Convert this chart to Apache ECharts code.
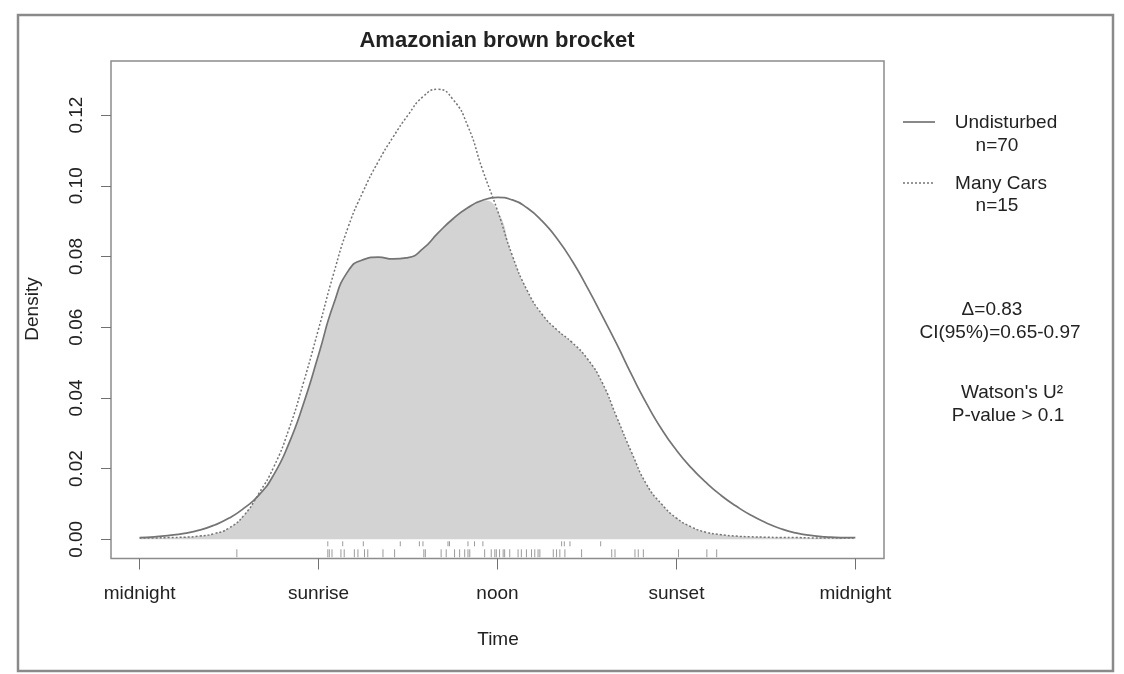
<!DOCTYPE html>
<html>
<head>
<meta charset="utf-8">
<script src="https://cdn.jsdelivr.net/npm/echarts@6/dist/echarts.min.js"></script>
<style>
  html, body { margin: 0; padding: 0; background: #ffffff; }
  #chart { width: 1124px; height: 674px; }
</style>
</head>
<body>
<div id="chart"></div>
<script>
// Kernel density of activity over the day (hours since midnight).
const hours = [0, 0.5, 1, 1.5, 2, 2.5, 3, 3.5, 4, 4.5, 5, 5.5, 6, 6.5, 7, 7.5, 8, 8.5, 9, 9.5,
  10, 10.5, 11, 11.5, 12, 12.5, 13, 13.5, 14, 14.5, 15, 15.5, 16, 16.5, 17, 17.5, 18, 18.5, 19, 19.5,
  20, 20.5, 21, 21.5, 22, 22.5, 23, 23.5, 24];

const undisturbed = [0.0005, 0.0007, 0.0011, 0.0017, 0.0026, 0.0040, 0.0060, 0.0088, 0.0125, 0.0183,
  0.0270, 0.0385, 0.0522, 0.0664, 0.0760, 0.0791, 0.0798, 0.0793, 0.0797, 0.0822,
  0.0866, 0.0906, 0.0938, 0.0959, 0.0967, 0.0960, 0.0937, 0.0900, 0.0850, 0.0788,
  0.0714, 0.0634, 0.0552, 0.0465, 0.0384, 0.0312, 0.0252, 0.0202, 0.0160, 0.0124,
  0.0094, 0.0068, 0.0047, 0.0030, 0.0018, 0.0011, 0.0007, 0.0005, 0.0005];

const manyCars = [0.0004, 0.0004, 0.0005, 0.0006, 0.0009, 0.0016, 0.0032, 0.0068, 0.0130, 0.0205,
  0.0310, 0.0445, 0.0595, 0.0750, 0.0885, 0.0985, 0.1068, 0.1138, 0.1200, 0.1252,
  0.1273, 0.1245, 0.1170, 0.1045, 0.0930, 0.0802, 0.0703, 0.0636, 0.0592, 0.0557,
  0.0512, 0.0445, 0.0345, 0.0245, 0.0155, 0.0100, 0.0060, 0.0035, 0.0020, 0.0013,
  0.0009, 0.0007, 0.0006, 0.0005, 0.0005, 0.0004, 0.0004, 0.0004, 0.0004];

// Detection times (hours) drawn as rugs under the curves.
const undisturbedTimes = [3.26, 6.31, 6.36, 6.45, 6.75, 6.86, 7.20, 7.32, 7.54, 7.65, 8.16, 8.55,
  9.53, 9.58, 10.11, 10.28, 10.56, 10.73, 10.90, 11.01, 11.07, 11.57, 11.79, 11.91, 11.96,
  12.07, 12.19, 12.24, 12.41, 12.69, 12.80, 12.97, 13.14, 13.25, 13.36, 13.42, 13.87, 13.98,
  14.09, 14.26, 14.82, 15.83, 15.94, 16.61, 16.72, 16.89, 18.07, 19.02, 19.35];
const manyCarsTimes = [6.31, 6.81, 7.50, 8.74, 9.38, 9.50, 10.34, 10.39, 11.01, 11.23, 11.51,
  14.15, 14.24, 14.43, 15.46];

const timeTicks = [0, 6, 12, 18, 24];
const timeTickLabels = ['midnight', 'sunrise', 'noon', 'sunset', 'midnight'];
const densityTicks = [0, 0.02, 0.04, 0.06, 0.08, 0.10, 0.12];

const seriesNames = ['Undisturbed', 'Many Cars'];
const sampleSizes = ['n=70', 'n=15'];
const statLines = ['\u0394=0.83', 'CI(95%)=0.65-0.97', 'Watson\'s U\u00B2', 'P-value > 0.1'];
const chartTitle = 'Amazonian brown brocket';

const FONT = '"Liberation Sans", Arial, Helvetica, sans-serif';
const TEXT = '#222222';
const CURVE = '#747474';

const solidPts = hours.map((h, i) => [h, undisturbed[i]]);
const dottedPts = hours.map((h, i) => [h, manyCars[i]]);
const overlapPts = hours.map((h, i) => [h, Math.min(undisturbed[i], manyCars[i])]);

function rugSeries(times, top, bottom) {
  return {
    type: 'custom',
    silent: true,
    z: 4,
    encode: { x: 0, y: 1 },
    data: times.map(t => [t, 0]),
    renderItem: (params, api) => {
      const p = api.coord([api.value(0), 0]);
      return {
        type: 'line',
        shape: { x1: p[0], y1: p[1] + top, x2: p[0], y2: p[1] + bottom },
        style: { stroke: '#9a9a9a', lineWidth: 1 }
      };
    }
  };
}

function label(text, x, y, size, weight, rotation) {
  return {
    type: 'text', x: x, y: y, rotation: rotation || 0, silent: true,
    style: { text: text, font: (weight || 'normal') + ' ' + size + 'px ' + FONT,
      fill: TEXT, align: 'center', verticalAlign: 'middle' }
  };
}

const chart = echarts.init(document.getElementById('chart'), null, { renderer: 'canvas' });

chart.setOption({
  animation: false,
  backgroundColor: '#ffffff',
  grid: {
    left: 111, top: 61, width: 773, height: 497.5,
    show: true, borderColor: '#8c8c8c', borderWidth: 1.5, backgroundColor: 'transparent'
  },
  xAxis: {
    type: 'value', min: -0.96, max: 24.96,
    splitLine: { show: false },
    axisLine: { show: false, onZero: false },
    axisTick: { show: true, customValues: timeTicks, length: 11, lineStyle: { color: '#707070', width: 1 } },
    axisLabel: {
      customValues: timeTicks,
      formatter: v => timeTickLabels[timeTicks.indexOf(v)],
      margin: 26, fontSize: 19, fontFamily: FONT, color: TEXT
    }
  },
  yAxis: {
    type: 'value', min: -0.00543, max: 0.1353,
    splitLine: { show: false },
    axisLine: { show: false, onZero: false },
    axisTick: { show: true, customValues: densityTicks, length: 10, lineStyle: { color: '#707070', width: 1 } },
    axisLabel: {
      customValues: densityTicks,
      rotate: 90,
      formatter: v => v.toFixed(2),
      margin: 25, fontSize: 19, fontFamily: FONT, color: TEXT
    }
  },
  series: [
    {
      name: 'overlap', type: 'line', data: overlapPts, smooth: 0.55, symbol: 'none', z: 1,
      lineStyle: { width: 0, opacity: 0 },
      areaStyle: { color: '#d3d3d3', opacity: 1 }
    },
    {
      name: seriesNames[0], type: 'line', data: solidPts, smooth: 0.55, symbol: 'none', z: 3,
      lineStyle: { color: CURVE, width: 1.7, type: 'solid' }
    },
    {
      name: seriesNames[1], type: 'line', data: dottedPts, smooth: 0.55, symbol: 'none', z: 3,
      lineStyle: { color: CURVE, width: 1.5, type: [2, 2] }
    },
    rugSeries(manyCarsTimes, 2, 7),
    rugSeries(undisturbedTimes, 10, 18)
  ],
  graphic: [
    {
      type: 'rect', silent: true,
      shape: { x: 18, y: 15, width: 1095, height: 656 },
      style: { fill: 'none', stroke: '#8a8a8a', lineWidth: 2.5 }
    },
    label(chartTitle, 497, 41, 22, 'bold'),
    label('Density', 33, 309, 19, 'normal', Math.PI / 2),
    label('Time', 498, 640, 19),
    {
      type: 'line', silent: true,
      shape: { x1: 903, y1: 122, x2: 935, y2: 122 },
      style: { stroke: CURVE, lineWidth: 1.7 }
    },
    {
      type: 'line', silent: true,
      shape: { x1: 903, y1: 183, x2: 935, y2: 183 },
      style: { stroke: CURVE, lineWidth: 1.5, lineDash: [2, 2] }
    },
    label(seriesNames[0], 1006, 123, 19),
    label(sampleSizes[0], 997, 146, 19),
    label(seriesNames[1], 1001, 184, 19),
    label(sampleSizes[1], 997, 206, 19),
    label(statLines[0], 992, 310, 19),
    label(statLines[1], 1000, 333, 19),
    label(statLines[2], 1012, 393, 19),
    label(statLines[3], 1008, 416, 19)
  ]
});
</script>
</body>
</html>
